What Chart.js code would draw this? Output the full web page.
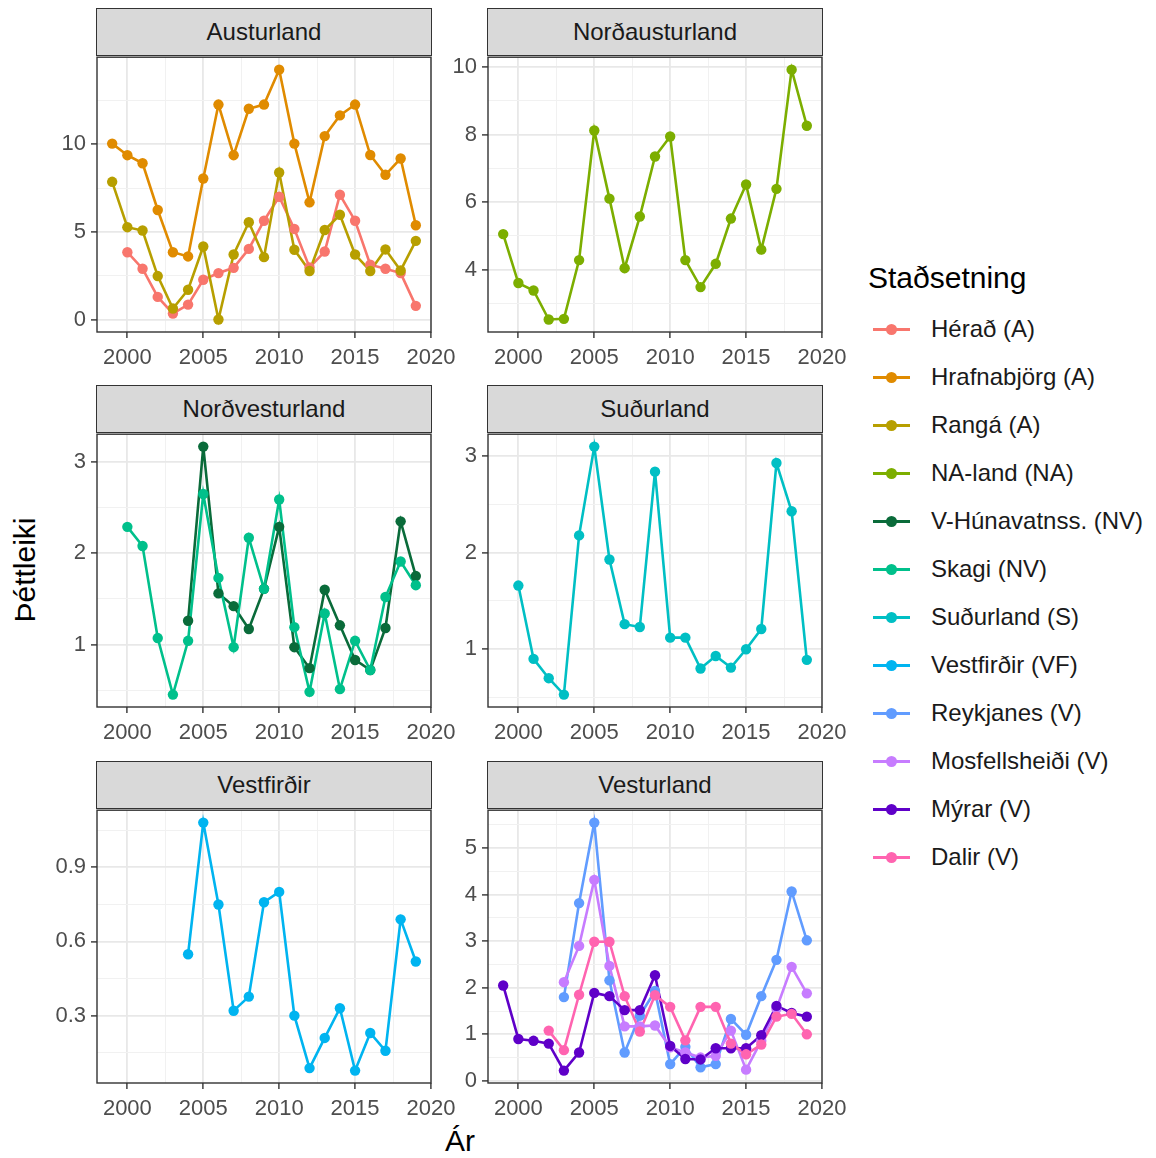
<!DOCTYPE html>
<html>
<head>
<meta charset="utf-8">
<script src="https://cdn.jsdelivr.net/npm/chart.js@4.4.1/dist/chart.umd.min.js"></script>
<style>
  body { margin: 0; background: #fff; font-family: "Liberation Sans", Arial, sans-serif; }
  #page { position: relative; width: 1156px; height: 1158px; overflow: hidden; background: #fff; }
  #page canvas { position: absolute; }
  .strip {
    position: absolute; box-sizing: border-box; z-index: 2;
    background: #D9D9D9; border: 1.4px solid #333;
    color: #1A1A1A; font-size: 24px; text-align: center;
  }
  .axis-title { position: absolute; font-size: 30px; color: #000; white-space: nowrap; }
  #ylab { left: 25px; top: 570px; transform: translate(-50%, -50%) rotate(-90deg); }
  #xlab { left: 460px; top: 1141px; transform: translate(-50%, -50%); }
  #legend { position: absolute; left: 868px; top: 256px; }
  #legend .title { font-size: 30px; color: #000; height: 44px; line-height: 44px; margin-bottom: 5px; }
  #legend .item { position: relative; height: 48px; }
  #legend .key { position: absolute; left: 5px; top: 23px; width: 37px; height: 2.6px; }
  #legend .dot { position: absolute; left: 17.5px; top: 18.5px; width: 11px; height: 11px; border-radius: 50%; }
  #legend .label { position: absolute; left: 63px; top: 0; line-height: 48px; font-size: 24px; color: #1A1A1A; white-space: nowrap; }
</style>
</head>
<body>
<div id="page">
  <div id="ylab" class="axis-title">Þéttleiki</div>
  <div id="xlab" class="axis-title">Ár</div>
  <div id="legend"></div>
</div>
<script>
// ---- data: density per year, one array per site (null = no survey) ----
const years = [1999, 2000, 2001, 2002, 2003, 2004, 2005, 2006, 2007, 2008, 2009,
               2010, 2011, 2012, 2013, 2014, 2015, 2016, 2017, 2018, 2019];

const herad        = [null, 3.84, 2.90, 1.29, 0.34, 0.85, 2.27, 2.65, 2.95, 4.03, 5.64, 7.01, 5.17, 2.97, 3.88, 7.12, 5.64, 3.13, 2.90, 2.65, 0.78];
const hrafnabjorg  = [10.04, 9.38, 8.92, 6.25, 3.84, 3.60, 8.05, 12.27, 9.38, 12.03, 12.27, 14.26, 10.04, 6.69, 10.47, 11.65, 12.27, 9.39, 8.26, 9.19, 5.38];
const ranga        = [7.86, 5.27, 5.08, 2.48, 0.63, 1.70, 4.17, 0.00, 3.71, 5.55, 3.56, 8.39, 3.98, 2.77, 5.11, 5.98, 3.71, 2.77, 4.00, 2.80, 4.49];
const naLand       = [5.05, 3.60, 3.38, 2.52, 2.54, 4.28, 8.12, 6.10, 4.04, 5.57, 7.35, 7.94, 4.28, 3.48, 4.17, 5.51, 6.52, 4.59, 6.39, 9.92, 8.26];
const vHunavatnss  = [null, null, null, null, null, 1.26, 3.17, 1.56, 1.42, 1.17, 1.61, 2.29, 0.97, 0.74, 1.60, 1.21, 0.83, 0.72, 1.18, 2.35, 1.75];
const skagi        = [null, 2.29, 2.08, 1.07, 0.45, 1.04, 2.65, 1.73, 0.97, 2.17, 1.61, 2.59, 1.19, 0.48, 1.34, 0.51, 1.04, 0.72, 1.52, 1.91, 1.65];
const sudurland    = [null, 1.66, 0.90, 0.70, 0.53, 2.18, 3.10, 1.93, 1.26, 1.23, 2.84, 1.12, 1.12, 0.80, 0.93, 0.81, 1.00, 1.21, 2.93, 2.43, 0.89];
const vestfirdir   = [null, null, null, null, null, 0.548, 1.08, 0.749, 0.32, 0.377, 0.758, 0.80, 0.30, 0.088, 0.21, 0.33, 0.078, 0.23, 0.158, 0.689, 0.519];
const reykjanes    = [null, null, null, null, 1.80, 3.82, 5.55, 2.16, 0.61, 1.40, 1.93, 0.36, 0.73, 0.29, 0.36, 1.33, 0.99, 1.82, 2.60, 4.07, 3.02];
const mosfellsheidi= [null, null, null, null, 2.12, 2.90, 4.32, 2.47, 1.17, 1.17, 1.19, 0.72, 0.61, 0.50, 0.54, 1.08, 0.24, 0.86, 1.55, 2.45, 1.88];
const myrar        = [2.05, 0.90, 0.86, 0.80, 0.22, 0.61, 1.89, 1.82, 1.52, 1.52, 2.27, 0.75, 0.47, 0.46, 0.70, 0.70, 0.70, 0.98, 1.61, 1.46, 1.38];
const dalir        = [null, null, null, 1.08, 0.66, 1.85, 2.99, 2.99, 1.82, 1.06, 1.84, 1.59, 0.87, 1.59, 1.59, 0.80, 0.57, 0.78, 1.38, 1.44, 1.00];

// series names in legend order
const siteNames = ['Hérað (A)', 'Hrafnabjörg (A)', 'Rangá (A)', 'NA-land (NA)',
  'V-Húnavatnss. (NV)', 'Skagi (NV)', 'Suðurland (S)', 'Vestfirðir (VF)',
  'Reykjanes (V)', 'Mosfellsheiði (V)', 'Mýrar (V)', 'Dalir (V)'];
const siteValues = [herad, hrafnabjorg, ranga, naLand, vHunavatnss, skagi,
  sudurland, vestfirdir, reykjanes, mosfellsheidi, myrar, dalir];

// facets
const regionNames = ['Austurland', 'Norðausturland', 'Norðvesturland', 'Suðurland', 'Vestfirðir', 'Vesturland'];
const regionSites = [[0, 1, 2], [3], [4, 5], [6], [7], [8, 9, 10, 11]];

// axis breaks
const xMajor = [2000, 2005, 2010, 2015, 2020];
const xMinor = [2002.5, 2007.5, 2012.5, 2017.5];
const yMajorTicks = [[0, 5, 10], [4, 6, 8, 10], [1, 2, 3], [1, 2, 3], [0.3, 0.6, 0.9], [0, 1, 2, 3, 4, 5]];
const yMinorTicks = [[2.5, 7.5, 12.5], [3, 5, 7, 9], [0.5, 1.5, 2.5], [0.5, 1.5, 2.5],
  [0.15, 0.45, 0.75, 1.05], [0.5, 1.5, 2.5, 3.5, 4.5, 5.5]];

// ---- styling ----
const siteColors = ['#F8766D', '#E08B00', '#B79F00', '#7CAE00', '#0A6B3A', '#00C08B',
  '#00BFC4', '#00B4F0', '#619CFF', '#C77CFF', '#5F00C8', '#FF64B0'];

const FONT = '"Liberation Sans", Arial, sans-serif';
const AXW = 98;   // y axis area (labels + ticks)
const AXH = 50;   // x axis area
const PADT = 16;
const PADR = 40;  // room for the last x label
const colLeft = [97, 488];
const panelW = 334;
const rowTop = [55, 432, 808];
const panelH = [277, 275, 275];
const STRIP_H = 47;

const page = document.getElementById('page');

const panelBorder = {
  id: 'panelBorder',
  afterDraw(chart) {
    const { ctx, chartArea: a } = chart;
    ctx.save();
    ctx.strokeStyle = '#333333';
    ctx.lineWidth = 1.4;
    ctx.strokeRect(a.left, a.top, a.right - a.left, a.bottom - a.top);
    ctx.restore();
  }
};

function yRange(idx) {
  const vals = regionSites[idx].flatMap(s => siteValues[s]).filter(v => v !== null);
  const lo = Math.min(...vals), hi = Math.max(...vals);
  const pad = (hi - lo) * 0.05;
  return [lo - pad, hi + pad];
}

function gridStyle(majors) {
  return {
    color: c => majors.includes(c.tick.value) ? '#E8E8E8' : '#F1F1F1',
    lineWidth: c => majors.includes(c.tick.value) ? 1.8 : 1,
    tickColor: c => majors.includes(c.tick.value) ? '#333333' : 'rgba(0,0,0,0)',
    tickWidth: 1.4,
    tickLength: 6,
    drawTicks: true
  };
}

regionNames.forEach((name, i) => {
  const col = i % 2, row = Math.floor(i / 2);
  const left = colLeft[col], top = rowTop[row], h = panelH[row];

  // strip label
  const strip = document.createElement('div');
  strip.className = 'strip';
  strip.textContent = name;
  strip.style.left = (left - 0.7) + 'px';
  strip.style.top = (top - STRIP_H) + 'px';
  strip.style.width = (panelW + 1.4) + 'px';
  strip.style.height = (STRIP_H + 0.7) + 'px';
  strip.style.lineHeight = (STRIP_H - 2) + 'px';
  page.appendChild(strip);

  const canvas = document.createElement('canvas');
  canvas.width = AXW + panelW + PADR;
  canvas.height = PADT + h + AXH;
  canvas.style.left = (left - AXW) + 'px';
  canvas.style.top = (top - PADT) + 'px';
  page.appendChild(canvas);

  const sites = regionSites[i];
  const n = sites.length;
  const datasets = [];
  sites.forEach((s, k) => {
    const pts = years.map((yr, j) => ({ x: yr, y: siteValues[s][j] })).filter(p => p.y !== null);
    // lines underneath every point layer, later sites on top
    datasets.push({
      label: siteNames[s], data: pts, borderColor: siteColors[s], borderWidth: 2.6,
      pointRadius: 0, fill: false, tension: 0, order: 100 + n - k
    });
    datasets.push({
      label: siteNames[s], data: pts, showLine: false, pointRadius: 5.2,
      pointBackgroundColor: siteColors[s], pointBorderWidth: 0, order: n - k
    });
  });

  const [ymin, ymax] = yRange(i);
  const yMajor = yMajorTicks[i];
  const yAll = yMajor.concat(yMinorTicks[i]).filter(v => v >= ymin && v <= ymax).sort((a, b) => a - b);
  const xAll = xMajor.concat(xMinor).sort((a, b) => a - b);

  new Chart(canvas, {
    type: 'line',
    data: { datasets },
    options: {
      responsive: false,
      animation: false,
      events: [],
      layout: { padding: { top: PADT, right: PADR, left: 0, bottom: 0 } },
      plugins: { legend: { display: false }, tooltip: { enabled: false } },
      scales: {
        x: {
          type: 'linear', min: 1998, max: 2020,
          afterBuildTicks: ax => { ax.ticks = xAll.map(v => ({ value: v })); },
          afterFit: ax => { ax.height = AXH; },
          ticks: {
            callback: v => xMajor.includes(v) ? String(v) : '',
            autoSkip: false, maxRotation: 0, padding: 7,
            color: '#4D4D4D', font: { family: FONT, size: 22 }
          },
          grid: gridStyle(xMajor),
          border: { display: false }
        },
        y: {
          type: 'linear', min: ymin, max: ymax,
          afterBuildTicks: ax => { ax.ticks = yAll.map(v => ({ value: v })); },
          afterFit: ax => { ax.width = AXW; },
          ticks: {
            callback: v => yMajor.includes(v) ? String(v) : '',
            autoSkip: false, padding: 5,
            color: '#4D4D4D', font: { family: FONT, size: 22 }
          },
          grid: gridStyle(yMajor),
          border: { display: false }
        }
      }
    },
    plugins: [panelBorder]
  });
});

// legend
const legend = document.getElementById('legend');
legend.innerHTML = '<div class="title">Staðsetning</div>';
siteNames.forEach((name, s) => {
  const item = document.createElement('div');
  item.className = 'item';
  item.innerHTML =
    `<div class="key" style="background:${siteColors[s]}"></div>` +
    `<div class="dot" style="background:${siteColors[s]}"></div>` +
    `<div class="label">${name}</div>`;
  legend.appendChild(item);
});
</script>
</body>
</html>
